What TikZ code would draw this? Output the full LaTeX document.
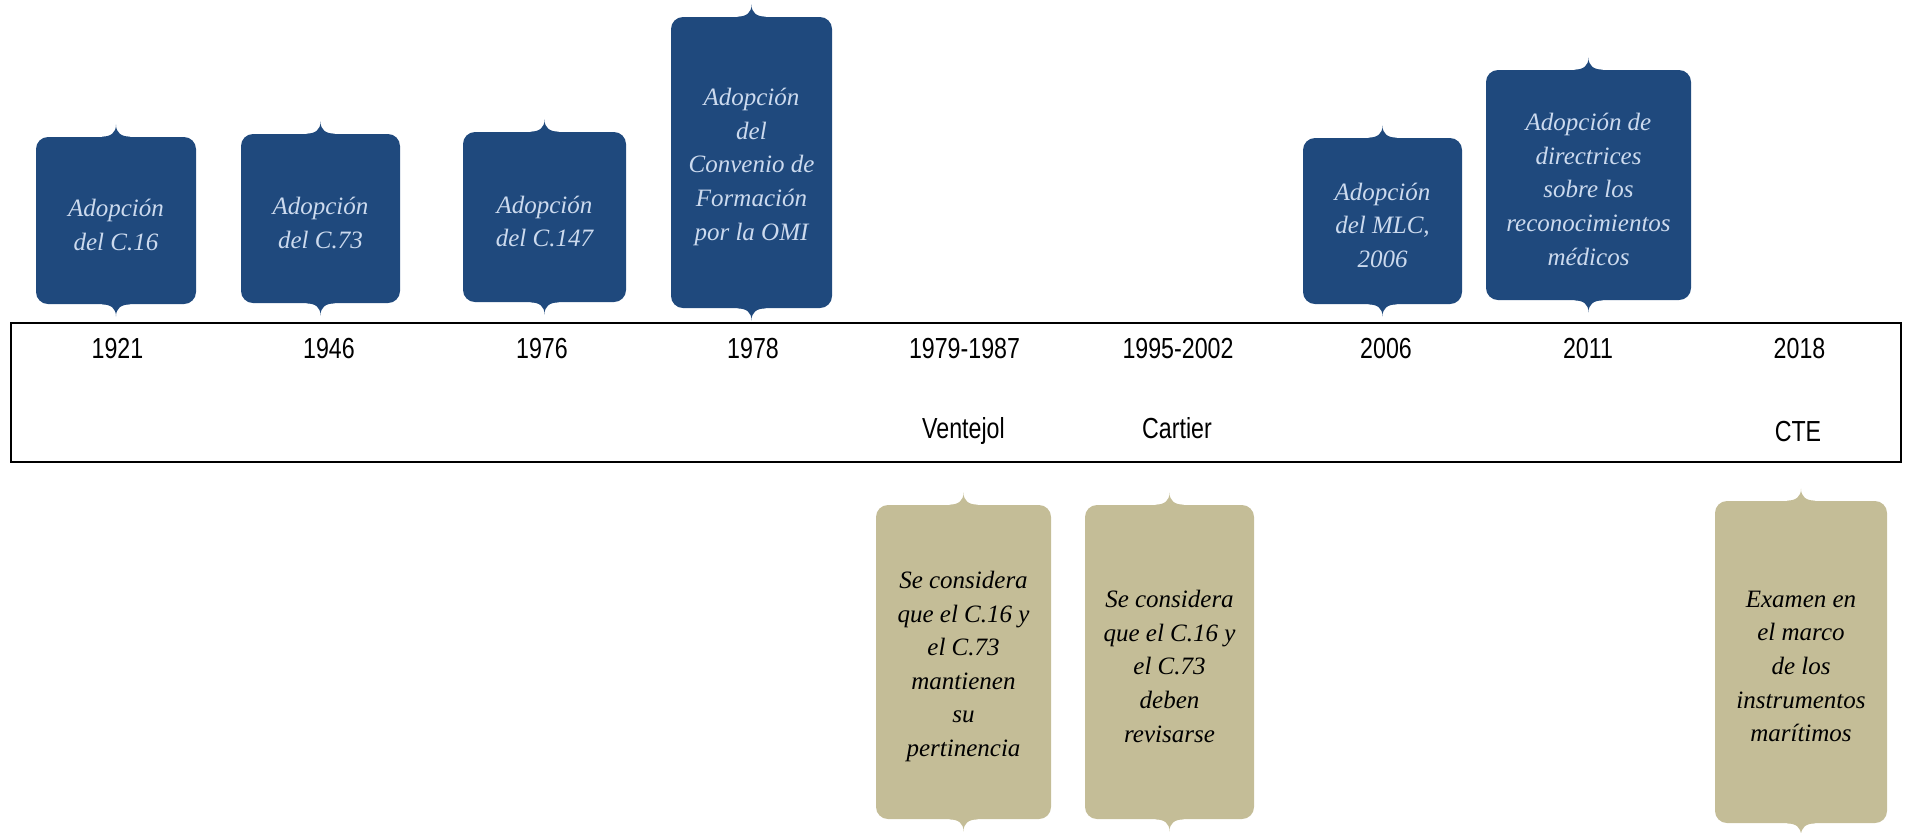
\documentclass[tikz,border=0pt]{standalone}
\usepackage{fontspec}
\setmainfont{Liberation Serif}
\newfontfamily\narrowsans[FakeStretch=0.8]{Liberation Sans}
\usetikzlibrary{positioning}
\definecolor{boxblue}{RGB}{31,73,125}
\definecolor{boxtan}{RGB}{196,189,151}
\definecolor{paleblue}{RGB}{204,218,238}

\begin{document}
\begin{tikzpicture}[x=0.5pt, y=-0.5pt,
	every node/.style={align=center, inner sep=0pt},
	year/.style={anchor=base, font=\narrowsans\fontsize{14.5}{17}\selectfont},
	eventtext/.style={yshift=-2.2pt, font=\itshape\fontsize{12.5}{16.8}\selectfont},
	bluebox/.style={rounded corners=6pt, fill=boxblue},
	tanbox/.style={rounded corners=6pt, fill=boxtan},
	bluetext/.style={eventtext, text=paleblue},
	tantext/.style={eventtext, text=black}]
			\useasboundingbox (0,0) rectangle (1907,832);
			%Timeline band
			\node[draw, line width=1.2pt, minimum width=945pt, minimum height=69.5pt] (band) at (956,392.5) {};
			%Years
			\node[year] (y1921) at (117.5,358) {1921};
			\node[year] (y1946) at (329,358) {1946};
			\node[year] (y1976) at (542,358) {1976};
			\node[year] (y1978) at (753,358) {1978};
			\node[year] (y1979) at (964.5,358) {1979-1987};
			\node[year] (y1995) at (1178,358) {1995-2002};
			\node[year] (y2006) at (1386,358) {2006};
			\node[year] (y2011) at (1588,358) {2011};
			\node[year] (y2018) at (1799.5,358) {2018};
			%Names
			\node[year] (nventejol) at (963.5,438) {Ventejol};
			\node[year] (ncartier) at (1177,438) {Cartier};
			\node[year] (ncte) at (1798,441) {CTE};
			%Adoptions
			\node[bluebox, minimum width=80pt, minimum height=83.5pt, label={[bluetext]center:{Adopción\\del C.16}}] (c16) at (116,220.5) {};
			\node[bluebox, minimum width=79.5pt, minimum height=84.5pt, label={[bluetext]center:{Adopción\\del C.73}}] (c73) at (320.5,218.5) {};
			\node[bluebox, minimum width=81.5pt, minimum height=85pt, label={[bluetext]center:{Adopción\\del C.147}}] (c147) at (544.5,217) {};
			\node[bluebox, minimum width=80.5pt, minimum height=145.5pt, label={[bluetext]center:{Adopción\\del\\Convenio de\\Formación\\por la OMI}}] (omi) at (751.5,162.5) {};
			\node[bluebox, minimum width=79.5pt, minimum height=83pt, label={[bluetext]center:{Adopción\\del MLC,\\2006}}] (mlc) at (1382.5,221) {};
			\node[bluebox, minimum width=102.5pt, minimum height=115pt, label={[bluetext]center:{Adopción de\\directrices\\sobre los\\reconocimientos\\médicos}}] (med) at (1588.5,185) {};
			%Reviews
			\node[tanbox, minimum width=87.5pt, minimum height=157pt, label={[tantext]center:{Se considera\\que el C.16 y\\el C.73\\mantienen\\su\\pertinencia}}] (ventejol) at (963.5,662) {};
			\node[tanbox, minimum width=84.5pt, minimum height=157pt, label={[tantext]center:{Se considera\\que el C.16 y\\el C.73\\deben\\revisarse}}] (cartier) at (1169.5,662) {};
			\node[tanbox, minimum width=86pt, minimum height=161pt, label={[tantext]center:{Examen en\\el marco\\de los\\instrumentos\\marítimos}}] (cte) at (1801,662) {};
			%Notches
			\foreach \n/\c in {c16/boxblue, c73/boxblue, c147/boxblue, omi/boxblue, mlc/boxblue, med/boxblue, ventejol/boxtan, cartier/boxtan, cte/boxtan} {
				\fill[\c, shift={(\n.north)}] (-14,1) -- (-14,0) .. controls (-5,0) and (0,-4) .. (0,-12) .. controls (0,-4) and (5,0) .. (14,0) -- (14,1) -- cycle;
				\fill[\c, shift={(\n.south)}, yscale=-1] (-14,1) -- (-14,0) .. controls (-5,0) and (0,-4) .. (0,-12) .. controls (0,-4) and (5,0) .. (14,0) -- (14,1) -- cycle;
			}
		\end{tikzpicture}
\end{document}
